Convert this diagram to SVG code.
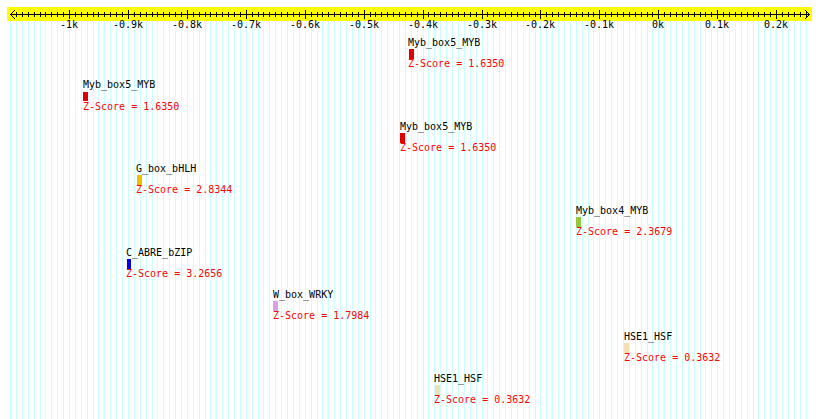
<svg xmlns="http://www.w3.org/2000/svg" width="820" height="419" viewBox="0 0 820 419">
<style>
.bg{fill:#ffffff}
.grid{stroke:#ccffff;stroke-width:1;fill:none}
.band{fill:#ffff00}
.axis{stroke:#000000;stroke-width:1;fill:none}
.t{font-family:"DejaVu Sans Mono","Liberation Mono",monospace;font-size:10px}
.al{fill:#000000;text-anchor:middle}
.n{fill:#000000}
.z{fill:#ff0000}
</style>
<rect class="bg" x="0" y="0" width="820" height="419"/>
<path class="grid" d="M10.5 21V419M16.5 21V419M22.5 21V419M28.5 21V419M34.5 21V419M40.5 21V419M45.5 21V419M51.5 21V419M57.5 21V419M63.5 21V419M69.5 21V419M75.5 21V419M81.5 21V419M87.5 21V419M93.5 21V419M98.5 21V419M104.5 21V419M110.5 21V419M116.5 21V419M122.5 21V419M128.5 21V419M134.5 21V419M140.5 21V419M146.5 21V419M152.5 21V419M157.5 21V419M163.5 21V419M169.5 21V419M175.5 21V419M181.5 21V419M187.5 21V419M193.5 21V419M199.5 21V419M205.5 21V419M210.5 21V419M216.5 21V419M222.5 21V419M228.5 21V419M234.5 21V419M240.5 21V419M246.5 21V419M252.5 21V419M258.5 21V419M263.5 21V419M269.5 21V419M275.5 21V419M281.5 21V419M287.5 21V419M293.5 21V419M299.5 21V419M305.5 21V419M311.5 21V419M317.5 21V419M322.5 21V419M328.5 21V419M334.5 21V419M340.5 21V419M346.5 21V419M352.5 21V419M358.5 21V419M364.5 21V419M370.5 21V419M375.5 21V419M381.5 21V419M387.5 21V419M393.5 21V419M399.5 21V419M405.5 21V419M411.5 21V419M417.5 21V419M423.5 21V419M428.5 21V419M434.5 21V419M440.5 21V419M446.5 21V419M452.5 21V419M458.5 21V419M464.5 21V419M470.5 21V419M476.5 21V419M482.5 21V419M487.5 21V419M493.5 21V419M499.5 21V419M505.5 21V419M511.5 21V419M517.5 21V419M523.5 21V419M529.5 21V419M535.5 21V419M540.5 21V419M546.5 21V419M552.5 21V419M558.5 21V419M564.5 21V419M570.5 21V419M576.5 21V419M582.5 21V419M588.5 21V419M593.5 21V419M599.5 21V419M605.5 21V419M611.5 21V419M617.5 21V419M623.5 21V419M629.5 21V419M635.5 21V419M641.5 21V419M647.5 21V419M652.5 21V419M658.5 21V419M664.5 21V419M670.5 21V419M676.5 21V419M682.5 21V419M688.5 21V419M694.5 21V419M700.5 21V419M705.5 21V419M711.5 21V419M717.5 21V419M723.5 21V419M729.5 21V419M735.5 21V419M741.5 21V419M747.5 21V419M753.5 21V419M758.5 21V419M764.5 21V419M770.5 21V419M776.5 21V419M782.5 21V419M788.5 21V419M794.5 21V419M800.5 21V419M806.5 21V419"/>
<g id="axis">
<rect class="band" x="7" y="7" width="805" height="14"/>
<path class="axis" d="M10 14.5H810M15 10L10.5 14.5L15 19M805 10L809.5 14.5L805 19"/>
<path class="axis" d="M16.5 12v5M22.5 12v5M28.5 12v5M34.5 12v5M40.5 12v5M45.5 12v5M51.5 12v5M57.5 12v5M63.5 12v5M75.5 12v5M81.5 12v5M87.5 12v5M93.5 12v5M98.5 12v5M104.5 12v5M110.5 12v5M116.5 12v5M122.5 12v5M134.5 12v5M140.5 12v5M146.5 12v5M152.5 12v5M157.5 12v5M163.5 12v5M169.5 12v5M175.5 12v5M181.5 12v5M193.5 12v5M199.5 12v5M205.5 12v5M210.5 12v5M216.5 12v5M222.5 12v5M228.5 12v5M234.5 12v5M240.5 12v5M252.5 12v5M258.5 12v5M263.5 12v5M269.5 12v5M275.5 12v5M281.5 12v5M287.5 12v5M293.5 12v5M299.5 12v5M311.5 12v5M317.5 12v5M322.5 12v5M328.5 12v5M334.5 12v5M340.5 12v5M346.5 12v5M352.5 12v5M358.5 12v5M370.5 12v5M375.5 12v5M381.5 12v5M387.5 12v5M393.5 12v5M399.5 12v5M405.5 12v5M411.5 12v5M417.5 12v5M428.5 12v5M434.5 12v5M440.5 12v5M446.5 12v5M452.5 12v5M458.5 12v5M464.5 12v5M470.5 12v5M476.5 12v5M487.5 12v5M493.5 12v5M499.5 12v5M505.5 12v5M511.5 12v5M517.5 12v5M523.5 12v5M529.5 12v5M535.5 12v5M546.5 12v5M552.5 12v5M558.5 12v5M564.5 12v5M570.5 12v5M576.5 12v5M582.5 12v5M588.5 12v5M593.5 12v5M605.5 12v5M611.5 12v5M617.5 12v5M623.5 12v5M629.5 12v5M635.5 12v5M641.5 12v5M647.5 12v5M652.5 12v5M664.5 12v5M670.5 12v5M676.5 12v5M682.5 12v5M688.5 12v5M694.5 12v5M700.5 12v5M705.5 12v5M711.5 12v5M723.5 12v5M729.5 12v5M735.5 12v5M741.5 12v5M747.5 12v5M753.5 12v5M758.5 12v5M764.5 12v5M770.5 12v5M782.5 12v5M788.5 12v5M794.5 12v5M800.5 12v5M806.5 12v5"/>
<path class="axis" d="M69.5 10v9M128.5 10v9M187.5 10v9M246.5 10v9M305.5 10v9M364.5 10v9M423.5 10v9M482.5 10v9M540.5 10v9M599.5 10v9M658.5 10v9M717.5 10v9M776.5 10v9"/>
<g class="t al">
<text x="69" y="28">-1k</text>
<text x="128" y="28">-0.9k</text>
<text x="187" y="28">-0.8k</text>
<text x="246" y="28">-0.7k</text>
<text x="305" y="28">-0.6k</text>
<text x="364" y="28">-0.5k</text>
<text x="423" y="28">-0.4k</text>
<text x="482" y="28">-0.3k</text>
<text x="540" y="28">-0.2k</text>
<text x="599" y="28">-0.1k</text>
<text x="658" y="28">0k</text>
<text x="717" y="28">0.1k</text>
<text x="776" y="28">0.2k</text>
</g>
</g>
<g id="node1"><text class="t n" x="408" y="46">Myb_box5_MYB</text><rect x="409" y="49" width="5" height="10" fill="#e00000"/><text class="t z" x="408" y="67">Z-Score = 1.6350</text></g>
<g id="node2"><text class="t n" x="83" y="88">Myb_box5_MYB</text><rect x="83" y="92" width="5" height="9" fill="#e00000"/><text class="t z" x="83" y="110">Z-Score = 1.6350</text></g>
<g id="node3"><text class="t n" x="400" y="130">Myb_box5_MYB</text><rect x="400" y="133" width="5" height="10" fill="#e00000"/><text class="t z" x="400" y="151">Z-Score = 1.6350</text></g>
<g id="node4"><text class="t n" x="136" y="172">G_box_bHLH</text><rect x="137" y="175" width="5" height="10" fill="#f0c000"/><text class="t z" x="136" y="193">Z-Score = 2.8344</text></g>
<g id="node5"><text class="t n" x="576" y="214">Myb_box4_MYB</text><rect x="576" y="217" width="5" height="10" fill="#99c83c"/><text class="t z" x="576" y="235">Z-Score = 2.3679</text></g>
<g id="node6"><text class="t n" x="126" y="256">C_ABRE_bZIP</text><rect x="127" y="259" width="4" height="10" fill="#0000ee"/><text class="t z" x="126" y="277">Z-Score = 3.2656</text></g>
<g id="node7"><text class="t n" x="273" y="298">W_box_WRKY</text><rect x="273" y="301" width="5" height="10" fill="#d8a0e8"/><text class="t z" x="273" y="319">Z-Score = 1.7984</text></g>
<g id="node8"><text class="t n" x="624" y="340">HSE1_HSF</text><rect x="624" y="343" width="5" height="10" fill="#f5deb3"/><text class="t z" x="624" y="361">Z-Score = 0.3632</text></g>
<g id="node9"><text class="t n" x="434" y="382">HSE1_HSF</text><rect x="435" y="385" width="5" height="10" fill="#f5deb3"/><text class="t z" x="434" y="403">Z-Score = 0.3632</text></g>
</svg>
